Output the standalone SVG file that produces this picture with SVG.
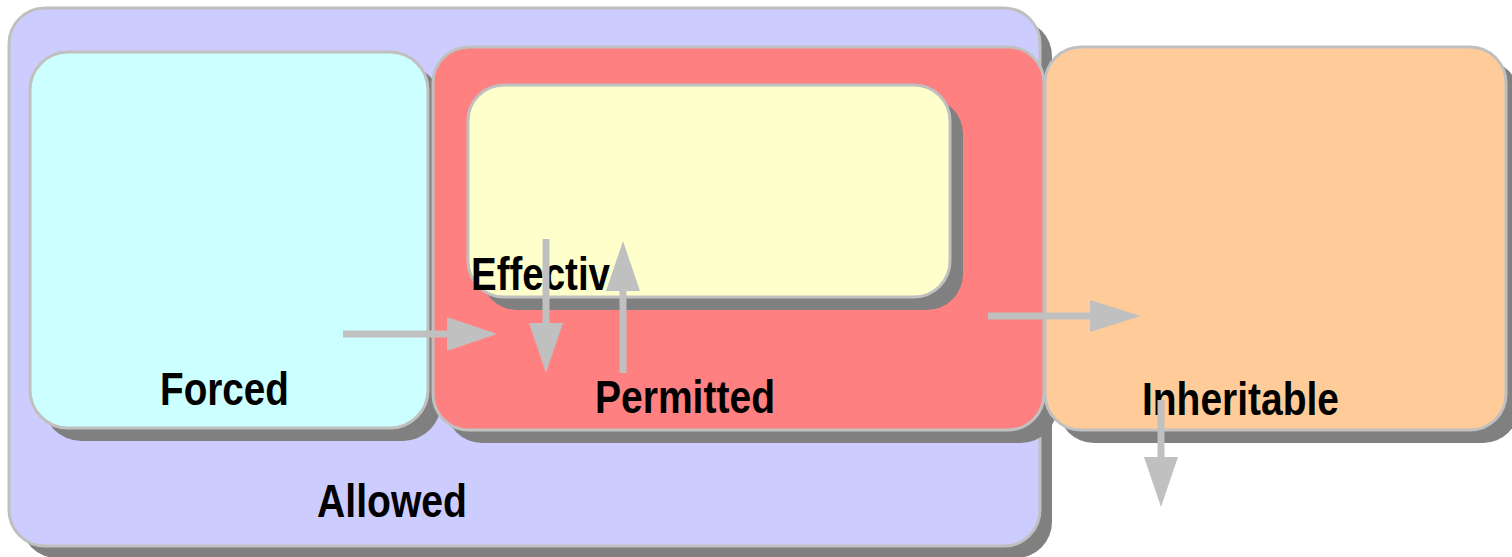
<svg xmlns="http://www.w3.org/2000/svg" width="1512" height="557" viewBox="0 0 1512 557">
<style>
.sh{fill:#808080}
.bx{stroke:#c0c0c0;stroke-width:3}
.lb{font-family:"Liberation Sans",Arial,sans-serif;font-weight:bold;font-size:46px;fill:#000}
.ln{stroke:#c0c0c0;stroke-width:7;fill:none}
.hd{fill:#c0c0c0}
</style>
<rect width="1512" height="557" fill="#ffffff"/>
<g id="allowed">
<rect class="sh" x="21" y="20" width="1031" height="538" rx="36"/>
<rect class="bx" x="9" y="8" width="1031" height="538" rx="36" fill="#ccccff"/>
</g>
<g id="forced">
<rect class="sh" x="43" y="65" width="398" height="376" rx="38"/>
<rect class="bx" x="30" y="52" width="398" height="376" rx="38" fill="#ccffff"/>
</g>
<g id="permitted">
<rect class="sh" x="446" y="60" width="611" height="383" rx="36"/>
<rect class="bx" x="433" y="47" width="611" height="383" rx="36" fill="#ff8080"/>
</g>
<g id="effective">
<rect class="sh" x="481" y="98" width="482" height="212" rx="36"/>
<rect class="bx" x="468" y="85" width="482" height="212" rx="36" fill="#ffffcc"/>
</g>
<g id="inheritable">
<rect class="sh" x="1058" y="60" width="461" height="383" rx="36"/>
<rect class="bx" x="1045" y="47" width="461" height="383" rx="36" fill="#ffcc99"/>
</g>
<g id="labels">
<text class="lb" x="160" y="405" textLength="129" lengthAdjust="spacingAndGlyphs">Forced</text>
<text class="lb" x="595" y="413" textLength="180" lengthAdjust="spacingAndGlyphs">Permitted</text>
<text class="lb" x="317" y="517" textLength="150" lengthAdjust="spacingAndGlyphs">Allowed</text>
<text class="lb" x="1142" y="415" textLength="197" lengthAdjust="spacingAndGlyphs">Inheritable</text>
<text class="lb" x="471" y="290" textLength="139" lengthAdjust="spacingAndGlyphs">Effectiv</text>
</g>
<g id="connectors">
<line class="ln" x1="343" y1="334" x2="449" y2="334"/>
<polygon class="hd" points="447,317 497,334 447,351"/>
<line class="ln" x1="546" y1="239" x2="546" y2="325"/>
<polygon class="hd" points="529,323 563,323 546,373"/>
<line class="ln" x1="623" y1="373" x2="623" y2="289"/>
<polygon class="hd" points="606,291 640,291 623,241"/>
<line class="ln" x1="988" y1="316" x2="1092" y2="316"/>
<polygon class="hd" points="1090,300 1141,316 1090,332"/>
<line class="ln" x1="1161" y1="400" x2="1161" y2="459"/>
<polygon class="hd" points="1144,457 1178,457 1161,507"/>
</g>
</svg>
